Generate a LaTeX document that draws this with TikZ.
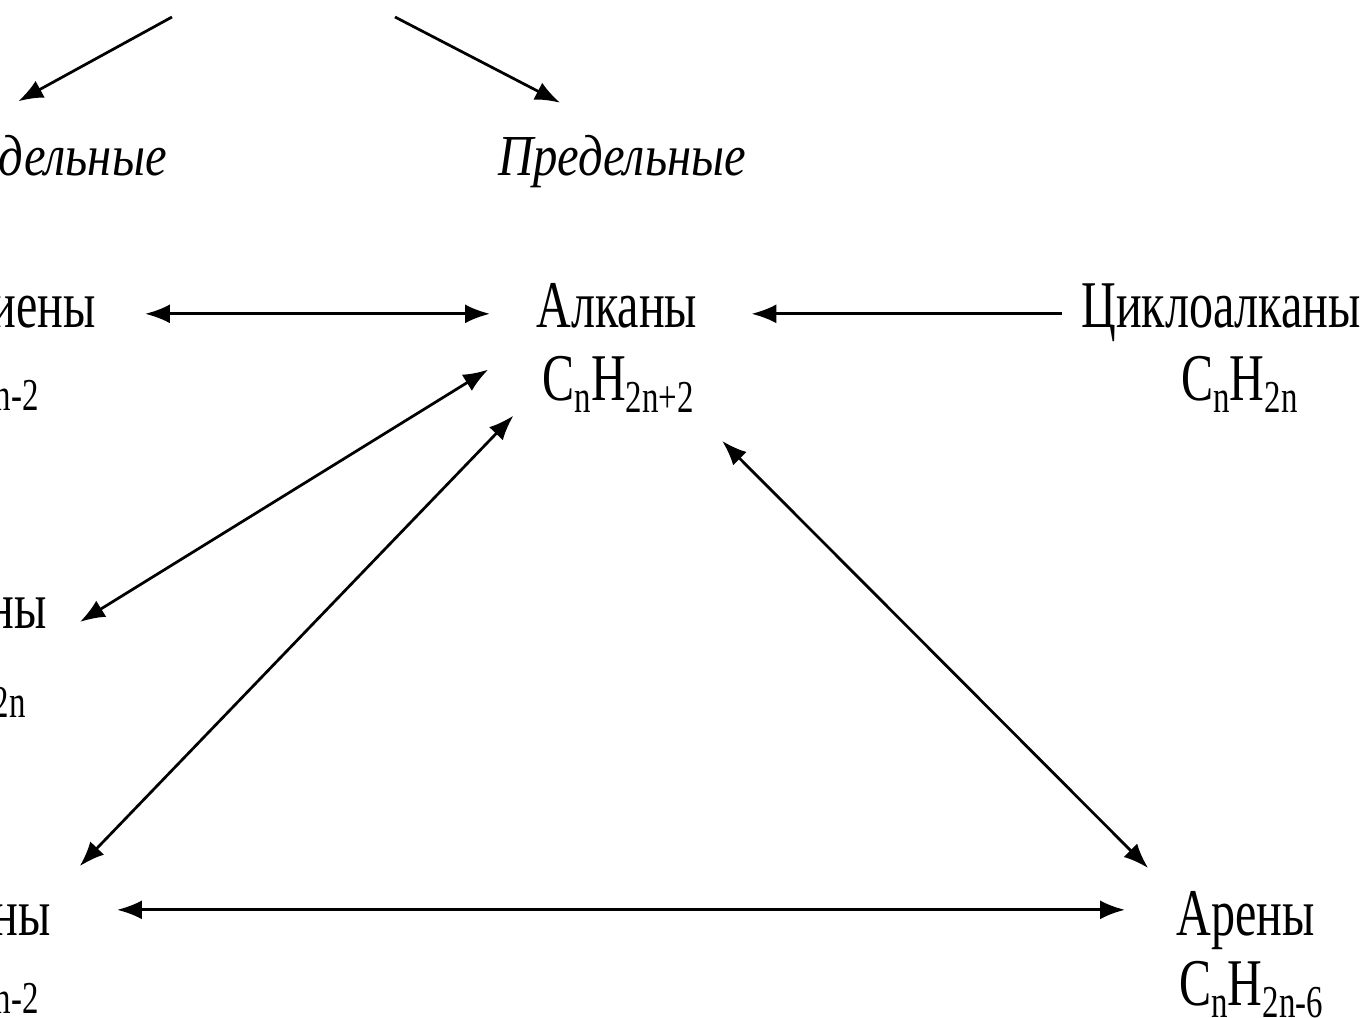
\documentclass[tikz,border=0pt]{standalone}
\usepackage{fontspec}
\setmainfont{Liberation Serif}[FakeStretch=0.72, ItalicFeatures={FakeStretch=0.84}]
\usetikzlibrary{arrows.meta}
\newcommand\chemsub[1]{\raisebox{-7pt}{\fontsize{26}{26}\selectfont #1}}

\begin{document}
\begin{tikzpicture}[x=0.02cm,y=-0.02cm,line width=0.055cm,>={Latex[length=0.5cm,width=0.38cm]}]

	\tikzset{class/.style={inner sep=0pt, text height=22pt, text depth=7pt,
			font=\fontsize{38}{44}\selectfont}}
	\tikzset{kind/.style={inner sep=0pt, text height=22pt, text depth=7pt,
			font=\fontsize{33}{40}\selectfont\itshape}}

	\useasboundingbox (0,0) rectangle (1367,1018);
	\clip (0,0) rectangle (1367,1018);

	% top of the scheme
	\coordinate (topL) at (172,17);
	\coordinate (topR) at (395,17);
	\node[kind, anchor=base east] (nepred) at (168,175) {Непредельные};
	\node[kind, anchor=base west] (pred) at (497,175) {Предельные};

	% classes
	\node[class, anchor=base east] (dieny) at (97,327) {Алкадиены};
	\node[class, anchor=base east] (dienyf) at (40,398) {C\chemsub{n}H\chemsub{2n-2}};
	\node[class, anchor=base west] (alkany) at (535,327) {Алканы};
	\node[class, anchor=base east] (alkanyf) at (695,400) {C\chemsub{n}H\chemsub{2n+2}};
	\node[class, anchor=base west] (cyclo) at (1080,327) {Циклоалканы};
	\node[class, anchor=base west] (cyclof) at (1180,400) {C\chemsub{n}H\chemsub{2n}};
	\node[class, anchor=base east] (alkeny) at (48,628) {Алкены};
	\node[class, anchor=base east] (alkenyf) at (27,705) {C\chemsub{n}H\chemsub{2n}};
	\node[class, anchor=base east] (alkiny) at (52,935) {Алкины};
	\node[class, anchor=base east] (alkinyf) at (40,1001) {C\chemsub{n}H\chemsub{2n-2}};
	\node[class, anchor=base west] (areny) at (1175,935) {Арены};
	\node[class, anchor=base west] (arenyf) at (1178,1005) {C\chemsub{n}H\chemsub{2n-6}};

	% links
	\draw[->, shorten >=1.4cm] (topL) -- ([xshift=-1.26cm]nepred.north);
	\draw[->, shorten >=1.4cm] (topR) -- (pred.north);
	\draw[<->, shorten <=0.96cm, shorten >=0.9cm] (dieny.east) -- (alkany.west);
	\draw[->, shorten <=0.36cm, shorten >=1.06cm] (cyclo.west) -- (alkany.east);
	\draw[<->, shorten <=1.1cm, shorten >=0.75cm] (alkany.south west) -- (alkeny.south east);
	\draw[<->, shorten <=0.8cm, shorten >=0.8cm] (alkanyf.west) -- (alkiny.north east);
	\draw[<->, shorten <=0.77cm, shorten >=0.76cm] (alkanyf.south east) -- (areny.north west);
	\draw[<->, shorten <=1.3cm, shorten >=1cm] ([yshift=0.24cm]alkiny.east) -- ([yshift=0.24cm]areny.west);
\end{tikzpicture}
\end{document}
